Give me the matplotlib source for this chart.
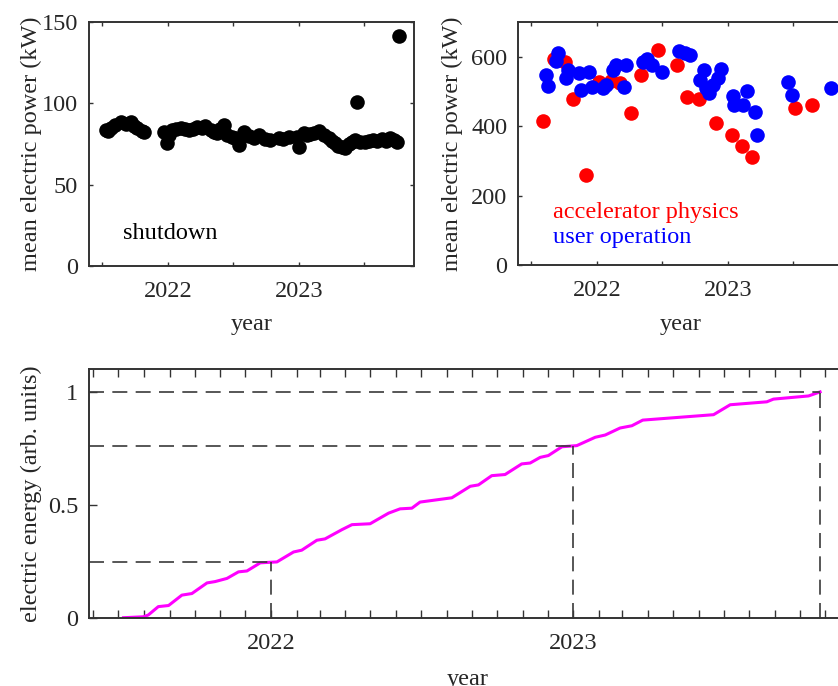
import datetime as dt

import matplotlib
matplotlib.use("Agg")
import matplotlib.pyplot as plt
from matplotlib.ticker import FixedLocator, MultipleLocator

# shutdown periods: date (decimal year) and mean electric power (kW)
shut_t = [2021.525, 2021.545, 2021.563, 2021.60, 2021.64, 2021.68, 2021.716,
          2021.745, 2021.767, 2021.80, 2021.817, 2021.97, 2021.995, 2022.01,
          2022.034, 2022.065, 2022.097, 2022.13, 2022.16, 2022.19, 2022.224,
          2022.26, 2022.287, 2022.326, 2022.35, 2022.376, 2022.40, 2022.427,
          2022.453, 2022.49, 2022.516, 2022.541, 2022.58, 2022.62, 2022.656,
          2022.694, 2022.74, 2022.783, 2022.846, 2022.88, 2022.922, 2022.986,
          2022.998, 2023.037, 2023.06, 2023.088, 2023.12, 2023.151, 2023.19,
          2023.227, 2023.25, 2023.278, 2023.30, 2023.33, 2023.355, 2023.38,
          2023.405, 2023.43, 2023.443, 2023.47, 2023.507, 2023.54, 2023.57,
          2023.60, 2023.634, 2023.665, 2023.697, 2023.725, 2023.748, 2023.767]
shut_p = [83.6, 83.0, 84.7, 86.5, 88.8, 87.5, 88.4,
          86.0, 84.7, 83.0, 82.2, 82.2, 75.4, 80.5,
          83.6, 84.0, 84.7, 84.0, 83.6, 84.5, 85.7,
          85.0, 86.3, 83.6, 82.5, 81.6, 84.0, 86.7,
          80.5, 79.5, 78.5, 74.4, 82.6, 80.0, 78.5,
          80.5, 78.0, 77.5, 78.5, 78.0, 79.5, 79.5,
          73.3, 81.6, 80.5, 81.0, 82.0, 83.0, 80.5,
          78.5, 77.0, 75.4, 74.0, 73.3, 72.5, 74.8,
          76.0, 77.5, 101.0, 76.0, 76.4, 77.0, 77.5,
          77.0, 77.9, 77.0, 78.5, 77.5, 76.4, 141.6]

# accelerator physics shifts
acc_t = [2021.59, 2021.67, 2021.755, 2021.82, 2021.915, 2022.02, 2022.11,
         2022.175, 2022.26, 2022.34, 2022.47, 2022.61, 2022.685, 2022.78,
         2022.91, 2023.03, 2023.105, 2023.185, 2023.51, 2023.645]
acc_p = [416, 592, 586, 479, 259, 528, 531,
         523, 437, 547, 619, 576, 485, 477,
         410, 374, 344, 310, 451, 461]

# user operation shifts
usr_t = [2021.61, 2021.63, 2021.69, 2021.705, 2021.765, 2021.78, 2021.865,
         2021.88, 2021.94, 2021.96, 2022.05, 2022.07, 2022.125, 2022.15,
         2022.21, 2022.225, 2022.35, 2022.38, 2022.42, 2022.495, 2022.63,
         2022.67, 2022.715, 2022.785, 2022.815, 2022.835, 2022.86, 2022.89,
         2022.925, 2022.95, 2023.04, 2023.05, 2023.115, 2023.15, 2023.205,
         2023.225, 2023.46, 2023.49, 2023.79]
usr_p = [547, 515, 588, 610, 538, 562, 552,
         504, 557, 514, 509, 518, 562, 576,
         514, 576, 586, 592, 576, 557, 617,
         610, 605, 533, 562, 509, 496, 518,
         538, 564, 487, 461, 461, 502, 442,
         374, 528, 490, 509]

# cumulative electric energy, normalised to the final value
cum_t = [2021.513, 2021.579, 2021.595, 2021.628, 2021.662, 2021.706, 2021.739,
         2021.789, 2021.816, 2021.855, 2021.893, 2021.921, 2021.965, 2022.02,
         2022.075, 2022.102, 2022.152, 2022.179, 2022.235, 2022.268, 2022.328,
         2022.389, 2022.427, 2022.466, 2022.493, 2022.598, 2022.659, 2022.686,
         2022.73, 2022.774, 2022.829, 2022.857, 2022.89, 2022.917, 2022.962,
         2023.011, 2023.072, 2023.105, 2023.154, 2023.193, 2023.229, 2023.463,
         2023.518, 2023.639, 2023.661, 2023.777, 2023.815]
cum_e = [0.0, 0.004, 0.012, 0.049, 0.054, 0.100, 0.107,
         0.154, 0.160, 0.174, 0.203, 0.207, 0.243, 0.247,
         0.291, 0.299, 0.343, 0.349, 0.390, 0.412, 0.416,
         0.463, 0.482, 0.485, 0.512, 0.531, 0.582, 0.588,
         0.629, 0.634, 0.681, 0.685, 0.710, 0.718, 0.757,
         0.762, 0.799, 0.809, 0.840, 0.850, 0.875, 0.899,
         0.943, 0.956, 0.968, 0.982, 1.0]

# start of 2022, start of 2023, last day of data
MARKS = [2022.0, 2023.0, cum_t[-1]]

W, H = 838, 686
INK = "#262626"

plt.rcParams["font.family"] = ["Liberation Serif", "DejaVu Serif"]
plt.rcParams["font.size"] = 17.5
plt.rcParams["text.color"] = INK
plt.rcParams["axes.labelcolor"] = INK


def px_axes(left, top, right, bottom):
    return fig.add_axes([left / W, 1 - bottom / H, (right - left) / W,
                         (bottom - top) / H])


def style(ax, length):
    for s in ax.spines.values():
        s.set_linewidth(1.4)
        s.set_color("#333333")
    ax.tick_params(which="both", direction="in", top=True, right=True,
                   length=length, width=1.0, color="#333333",
                   labelcolor=INK)
    ax.tick_params(axis="x", pad=11)
    ax.tick_params(axis="y", pad=8)


def level_at(t):
    # linear interpolation on the cumulative curve
    for i in range(1, len(cum_t)):
        if cum_t[i] >= t:
            f = (t - cum_t[i - 1]) / (cum_t[i] - cum_t[i - 1])
            return cum_e[i - 1] + f * (cum_e[i] - cum_e[i - 1])
    return cum_e[-1]


fig = plt.figure(figsize=(W / 100, H / 100), dpi=100)

# top left: shutdown
ax = px_axes(89.3, 22.3, 414, 265.7)
ax.plot(shut_t, shut_p, "o", color="k", ms=10.5, mec="none")
ax.set_xlim(2021.4, 2023.88)
ax.set_ylim(0, 150)
ax.set_yticks([0, 50, 100, 150])
ax.set_xticks([2022, 2023])
ax.set_xticklabels(["2022", "2023"])
ax.xaxis.set_minor_locator(MultipleLocator(0.5))
style(ax, 3)
ax.text(2021.66, 20, "shutdown", color="k", va="center")
ax.set_ylabel("mean electric power (kW)")
ax.set_xlabel("year")
ax.yaxis.set_label_coords(-0.146, 0.5)
ax.xaxis.set_label_coords(0.5, -0.2)

# top right: accelerator physics and user operation
ax = px_axes(518.3, 22, 843, 265)
ax.plot(acc_t, acc_p, "o", color="#ff0000", ms=10.5, mec="none")
ax.plot(usr_t, usr_p, "o", color="#0000ff", ms=10.5, mec="none")
ax.set_xlim(2021.4, 2023.88)
ax.set_ylim(0, 700)
ax.set_yticks([0, 200, 400, 600])
ax.set_xticks([2022, 2023])
ax.set_xticklabels(["2022", "2023"])
ax.xaxis.set_minor_locator(MultipleLocator(0.5))
style(ax, 3)
ax.text(2021.665, 150, "accelerator physics", color="#ff0000", va="center")
ax.text(2021.665, 78, "user operation", color="#0000ff", va="center")
ax.set_ylabel("mean electric power (kW)")
ax.set_xlabel("year")
ax.yaxis.set_label_coords(-0.169, 0.5)
ax.xaxis.set_label_coords(0.5, -0.2)

# bottom: cumulative energy with guide lines at the year boundaries
ax = px_axes(89.3, 369.3, 847, 617.7)
ax.plot(cum_t, cum_e, color="#ff00ff", lw=2.2)
for t in MARKS:
    lv = level_at(t)
    ax.plot([2021.4, t], [lv, lv], color="#3a3a3a", lw=1.2, dashes=(9, 5))
    ax.plot([t, t], [0, lv], color="#3a3a3a", lw=1.2, dashes=(9, 5))

ax.set_xlim(2021.4, 2023.904)
ax.set_ylim(0, 1.1)
ax.set_yticks([0, 0.5, 1])
ax.set_yticklabels(["0", "0.5", "1"])
ax.set_xticks([2022, 2023])
ax.set_xticklabels(["2022", "2023"])
months = []
for y in (2021, 2022, 2023):
    n = (dt.date(y + 1, 1, 1) - dt.date(y, 1, 1)).days
    for m in range(2, 13):
        d = (dt.date(y, m, 1) - dt.date(y, 1, 1)).days
        months.append(y + d / n)
ax.xaxis.set_minor_locator(FixedLocator(months))
style(ax, 6)
ax.set_ylabel("electric energy (arb. units)")
ax.set_xlabel("year")
ax.yaxis.set_label_coords(-0.063, 0.5)
ax.xaxis.set_label_coords(0.5, -0.205)

fig.savefig("out.png", dpi=100)
